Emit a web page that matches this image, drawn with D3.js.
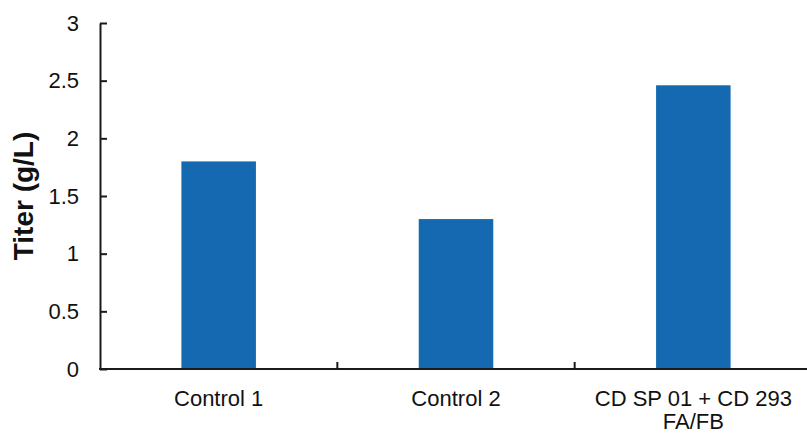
<!DOCTYPE html>
<html>
<head>
<meta charset="utf-8">
<script src="https://cdn.jsdelivr.net/npm/d3@7"></script>
<style>
  html, body { margin: 0; padding: 0; background: #fff; }
  svg { display: block; font-family: "Liberation Sans", Arial, sans-serif; }
</style>
</head>
<body>
<svg id="chart" width="807" height="434"></svg>
<script>
// Titer per culture condition
const categories = ["Control 1", "Control 2", "CD SP 01 + CD 293\nFA/FB"];
const titer = [1.8, 1.3, 2.46];
const yTicks = [0, 0.5, 1, 1.5, 2, 2.5, 3];
const yLabel = "Titer (g/L)";

const svg = d3.select("#chart");
const plotLeft = 100, plotRight = 812, plotTop = 23, plotBottom = 369;
const barColor = "#1569b0";
const axisColor = "#1a1a1a";

const x = d3.scaleBand().domain(categories).range([plotLeft, plotRight]).padding(0);
const y = d3.scaleLinear().domain([0, 3]).range([plotBottom, plotTop]);
const barW = x.bandwidth() * 0.314;

// bars
svg.append("g")
  .selectAll("rect")
  .data(categories)
  .join("rect")
  .attr("x", (d) => x(d) + (x.bandwidth() - barW) / 2)
  .attr("width", barW)
  .attr("y", (d, i) => y(titer[i]))
  .attr("height", (d, i) => y(0) - y(titer[i]))
  .attr("fill", barColor);

// y axis with inward ticks
const yAxis = svg.append("g")
  .attr("transform", `translate(${plotLeft},0)`)
  .call(d3.axisLeft(y).tickValues(yTicks).tickFormat((d) => String(d))
    .tickSizeInner(-7).tickSizeOuter(0).tickPadding(21));
yAxis.select(".domain").attr("stroke", axisColor).attr("stroke-width", 2);
yAxis.selectAll(".tick line").attr("stroke", axisColor).attr("stroke-width", 2);
yAxis.selectAll(".tick text")
  .attr("font-size", 22).attr("fill", "#111")
  .attr("font-family", "Liberation Sans, Arial, sans-serif");

// x axis line with category boundary ticks
const xAxis = svg.append("g");
xAxis.append("line")
  .attr("x1", plotLeft - 1).attr("x2", plotRight).attr("y1", plotBottom).attr("y2", plotBottom)
  .attr("stroke", axisColor).attr("stroke-width", 2);
xAxis.selectAll("line.tick")
  .data(categories)
  .join("line")
  .attr("class", "tick")
  .attr("x1", (d) => x(d) + x.bandwidth())
  .attr("x2", (d) => x(d) + x.bandwidth())
  .attr("y1", plotBottom).attr("y2", plotBottom - 7)
  .attr("stroke", axisColor).attr("stroke-width", 2);

const labels = xAxis.selectAll("text")
  .data(categories)
  .join("text")
  .attr("text-anchor", "middle")
  .attr("font-size", 22)
  .attr("fill", "#111")
  .attr("y", plotBottom + 37);
labels.each(function (d) {
  const t = d3.select(this);
  d.split("\n").forEach((line, i) => {
    t.append("tspan")
      .attr("x", x(d) + x.bandwidth() / 2)
      .attr("dy", i === 0 ? 0 : 23)
      .text(line);
  });
});

// y axis title
svg.append("text")
  .attr("transform", `translate(33,${(plotTop + plotBottom) / 2}) rotate(-90)`)
  .attr("text-anchor", "middle")
  .attr("font-size", 28)
  .attr("font-weight", "bold")
  .attr("fill", "#111")
  .text(yLabel);
</script>
</body>
</html>
